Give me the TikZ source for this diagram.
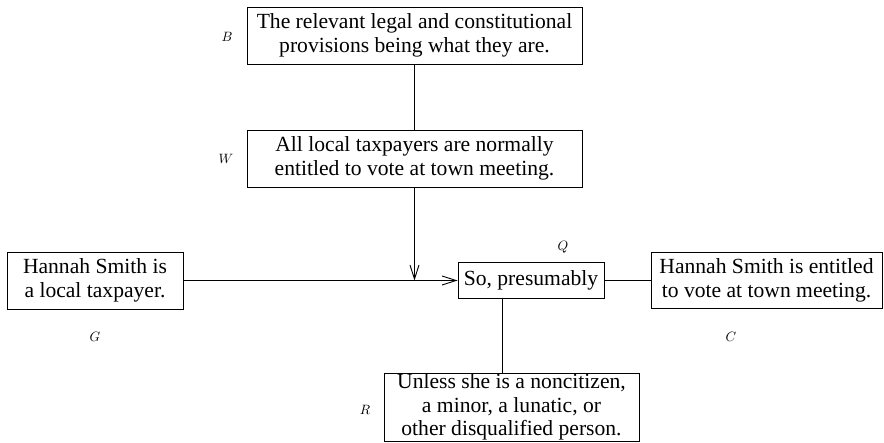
\documentclass[tikz,border=0pt]{standalone}
\usepackage{fontspec}
\setmainfont{Liberation Serif}
\usetikzlibrary{arrows.meta}
\begin{document}
\begin{tikzpicture}[x=1pt,y=-1pt,
  box/.style={draw,line width=0.9pt,align=center,inner sep=0pt,
    font=\fontsize{21.6}{23.6}\selectfont},
  lab/.style={inner sep=0pt,scale=1.35},
  conn/.style={line width=0.9pt},
  arr/.style={conn,-{Straight Barb[length=14pt,width=9pt,line width=0.9pt]}}]
\useasboundingbox (0,0) rectangle (884,443);
\node[box,minimum width=335pt,minimum height=57pt] (B) at (414.5,35.5)
  {The relevant legal and constitutional\\provisions being what they are.\rule[-1.5pt]{0pt}{1pt}};
\node[box,minimum width=335pt,minimum height=57pt] (W) at (414.5,158.5)
  {All local taxpayers are normally\\entitled to vote at town meeting.\rule[-1.5pt]{0pt}{1pt}};
\node[box,minimum width=176pt,minimum height=57pt] (G) at (95,280.5)
  {Hannah Smith is\\a local taxpayer.\rule[-1.5pt]{0pt}{1pt}};
\node[box,minimum width=146pt,minimum height=36pt] (Q) at (531,280.5)
  {So, presumably};
\node[box,minimum width=231pt,minimum height=56pt] (C) at (766.5,280.5)
  {Hannah Smith is entitled\\to vote at town meeting.\rule[-1.5pt]{0pt}{1pt}};
\node[box,minimum width=255pt,minimum height=68pt] (R) at (511.5,407)
  {Unless she is a noncitizen,\\a minor, a lunatic, or\\other disqualified person.\rule[-1.5pt]{0pt}{1pt}};
\node[lab] (lB) at (227,37) {$B$};
\node[lab] (lW) at (226,159) {$W$};
\node[lab] (lG) at (95,337) {$G$};
\node[lab] (lQ) at (563,247) {$Q$};
\node[lab] (lC) at (731,337) {$C$};
\node[lab] (lR) at (365,410) {$R$};
\coordinate (rx) at (502,0);
\coordinate (meet) at (W.south |- G.east);
\draw[conn] (B.south) -- (W.north);
\draw[arr] (W.south) -- (meet);
\draw[arr] (G.east) -- (Q.west);
\draw[conn] (Q.east) -- (C.west);
\draw[conn] (Q.south -| rx) -- (R.north -| rx);
\end{tikzpicture}
\end{document}
